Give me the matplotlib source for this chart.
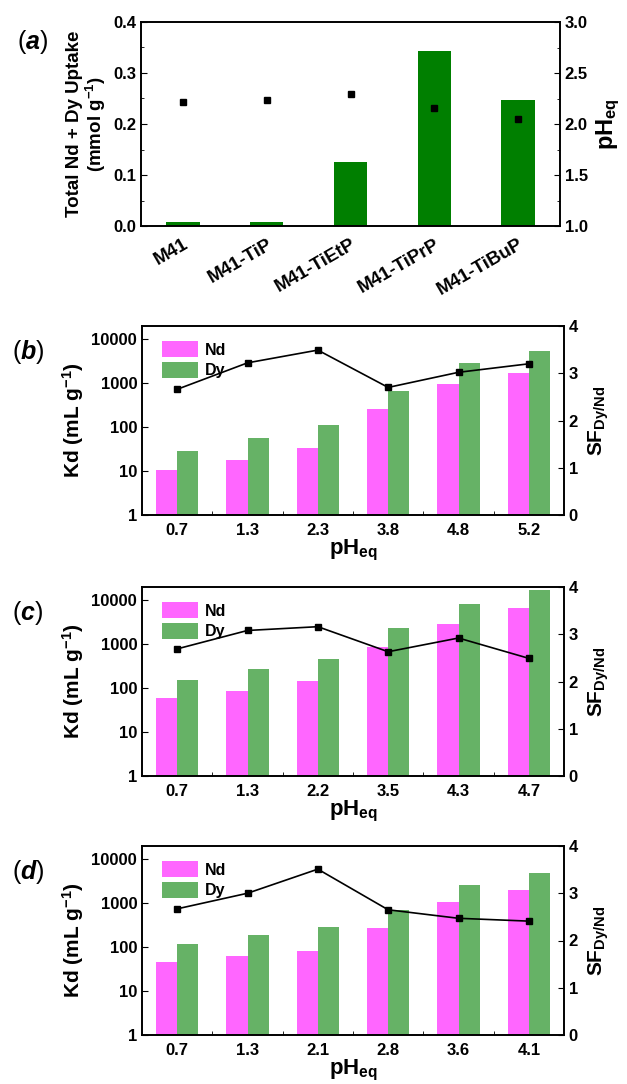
import matplotlib
matplotlib.use("Agg")
import matplotlib.pyplot as plt
import matplotlib.transforms as mtransforms
import numpy as np
from matplotlib.ticker import MultipleLocator, FixedLocator

plt.rcParams['font.family'] = ['Liberation Sans', 'DejaVu Sans']
plt.rcParams['font.weight'] = 'bold'
plt.rcParams['mathtext.fontset'] = 'custom'
plt.rcParams['mathtext.rm'] = 'Liberation Sans:bold'
plt.rcParams['mathtext.it'] = 'Liberation Sans:italic:bold'
plt.rcParams['mathtext.bf'] = 'Liberation Sans:bold'
plt.rcParams['axes.linewidth'] = 1.2

# ---- Panel (a) data ----
materials = ["M41", "M41-TiP", "M41-TiEtP", "M41-TiPrP", "M41-TiBuP"]
uptake = [0.007, 0.008, 0.125, 0.344, 0.248]
ph_eq_a = [2.22, 2.24, 2.29, 2.16, 2.05]

# ---- Panel (b) data ----
ph_b = ["0.7", "1.3", "2.3", "3.8", "4.8", "5.2"]
kd_nd_b = [10.6, 17.6, 33, 256, 940, 1670]
kd_dy_b = [28, 56, 113, 676, 2910, 5350]
sf_b = [2.66, 3.22, 3.49, 2.70, 3.02, 3.20]

# ---- Panel (c) data ----
ph_c = ["0.7", "1.3", "2.2", "3.5", "4.3", "4.7"]
kd_nd_c = [59, 88, 144, 870, 2950, 6700]
kd_dy_c = [157, 270, 448, 2310, 8260, 16900]
sf_c = [2.69, 3.08, 3.16, 2.63, 2.92, 2.49]

# ---- Panel (d) data ----
ph_d = ["0.7", "1.3", "2.1", "2.8", "3.6", "4.1"]
kd_nd_d = [45, 62, 80, 267, 1060, 2015]
kd_dy_d = [120, 185, 282, 709, 2570, 4810]
sf_d = [2.67, 3.00, 3.51, 2.65, 2.47, 2.41]

ND_COLOR = "#FF66FF"
DY_COLOR = "#66B266"
BAR_A = "#007F00"

fig = plt.figure(figsize=(6.27, 10.84), dpi=100)
W, H = 627, 1084

def rect(l, t, r, b):
    return [l / W, 1 - b / H, (r - l) / W, (b - t) / H]

TICK = 12

# ---------- Panel (a) ----------
ax = fig.add_axes(rect(141, 22, 560, 226))
x = np.arange(len(materials))
ax.bar(x, uptake, width=0.4, color=BAR_A)
ax.set_xlim(-0.5, len(materials) - 0.5)
ax.set_ylim(0, 0.4)
ax.yaxis.set_major_locator(MultipleLocator(0.1))
ax.yaxis.set_minor_locator(MultipleLocator(0.05))
ax.set_xticks(x)
ax.set_xticklabels(materials, rotation=30, ha='right', rotation_mode='anchor',
                   fontsize=13.5, fontweight='bold')
offset = mtransforms.ScaledTranslation(14 / 100, 0, fig.dpi_scale_trans)
for lab in ax.get_xticklabels():
    lab.set_transform(lab.get_transform() + offset)
ax.tick_params(axis='x', length=0, pad=7)
ax.tick_params(axis='y', direction='in', labelsize=TICK, length=4)
ax.tick_params(axis='y', which='minor', direction='in', length=2.5)
for lab in ax.get_yticklabels():
    lab.set_fontweight('bold')
ax.set_ylabel("Total Nd + Dy Uptake\n(mmol g$^{-1}$)", fontsize=13.5,
              fontweight='bold', linespacing=1.0, labelpad=4)
ax2 = ax.twinx()
ax2.plot(x, ph_eq_a, 's', color='black', markersize=4)
ax2.set_ylim(1.0, 3.0)
ax2.yaxis.set_major_locator(MultipleLocator(0.5))
ax2.yaxis.set_minor_locator(MultipleLocator(0.25))
ax2.tick_params(axis='y', direction='in', labelsize=TICK, length=4)
ax2.tick_params(axis='y', which='minor', direction='in', length=2.5)
for lab in ax2.get_yticklabels():
    lab.set_fontweight('bold')
ax2.set_ylabel("pH$_{\\mathregular{eq}}$", fontsize=17, fontweight='bold', labelpad=5)
fig.text(17 / W, 1 - 42 / H, "($\\mathit{a}$)", fontsize=18, fontweight='normal',
         va='center', ha='left')


def kd_panel(top, bottom, cats, nd, dy, sf, letter):
    ax = fig.add_axes(rect(142, top, 564, bottom))
    xs = np.arange(len(cats))
    w = 0.3
    ax.bar(xs - w / 2, nd, width=w, color=ND_COLOR, label="Nd")
    ax.bar(xs + w / 2, dy, width=w, color=DY_COLOR, label="Dy")
    ax.set_yscale('log')
    ax.set_ylim(1, 20000)
    ax.yaxis.set_major_locator(FixedLocator([1, 10, 100, 1000, 10000]))
    ax.set_yticklabels(["1", "10", "100", "1000", "10000"])
    ax.yaxis.set_minor_locator(FixedLocator([]))
    ax.set_xlim(-0.5, len(cats) - 0.5)
    ax.set_xticks(xs)
    ax.set_xticklabels(cats)
    ax.set_xticks(np.arange(len(cats) - 1) + 0.5, minor=True)
    ax.tick_params(axis='x', which='major', length=0, labelsize=TICK, pad=6)
    ax.tick_params(axis='x', which='minor', direction='in', length=3)
    ax.tick_params(axis='y', direction='in', labelsize=TICK, length=4)
    for lab in ax.get_xticklabels() + ax.get_yticklabels():
        lab.set_fontweight('bold')
    ax.set_ylabel("Kd (mL g$^{-1}$)", fontsize=15, fontweight='bold', labelpad=4)
    ax.set_xlabel("pH$_{\\mathregular{eq}}$", fontsize=16, fontweight='bold', labelpad=0)
    leg = ax.legend(loc='upper left', frameon=False, fontsize=11.5, handlelength=2.3,
                    handleheight=1.2, borderaxespad=0.3, labelspacing=0.25,
                    handletextpad=0.4, bbox_to_anchor=(0.02, 0.98))
    for t in leg.get_texts():
        t.set_fontweight('bold')
    a2 = ax.twinx()
    a2.plot(xs, sf, '-s', color='black', markersize=4, linewidth=1.2)
    a2.set_ylim(0, 4)
    a2.yaxis.set_major_locator(MultipleLocator(1))
    a2.tick_params(axis='y', direction='in', labelsize=TICK, length=4)
    for lab in a2.get_yticklabels():
        lab.set_fontweight('bold')
    a2.set_ylabel("SF$_{\\mathregular{Dy/Nd}}$", fontsize=15, fontweight='bold', labelpad=6)
    fig.text(12 / W, 1 - (top + 26) / H, "($\\mathit{" + letter + "}$)", fontsize=18,
             fontweight='normal', va='center', ha='left')


kd_panel(326, 515, ph_b, kd_nd_b, kd_dy_b, sf_b, "b")
kd_panel(587, 776, ph_c, kd_nd_c, kd_dy_c, sf_c, "c")
kd_panel(846, 1035, ph_d, kd_nd_d, kd_dy_d, sf_d, "d")

fig.savefig("out.png", dpi=100)
